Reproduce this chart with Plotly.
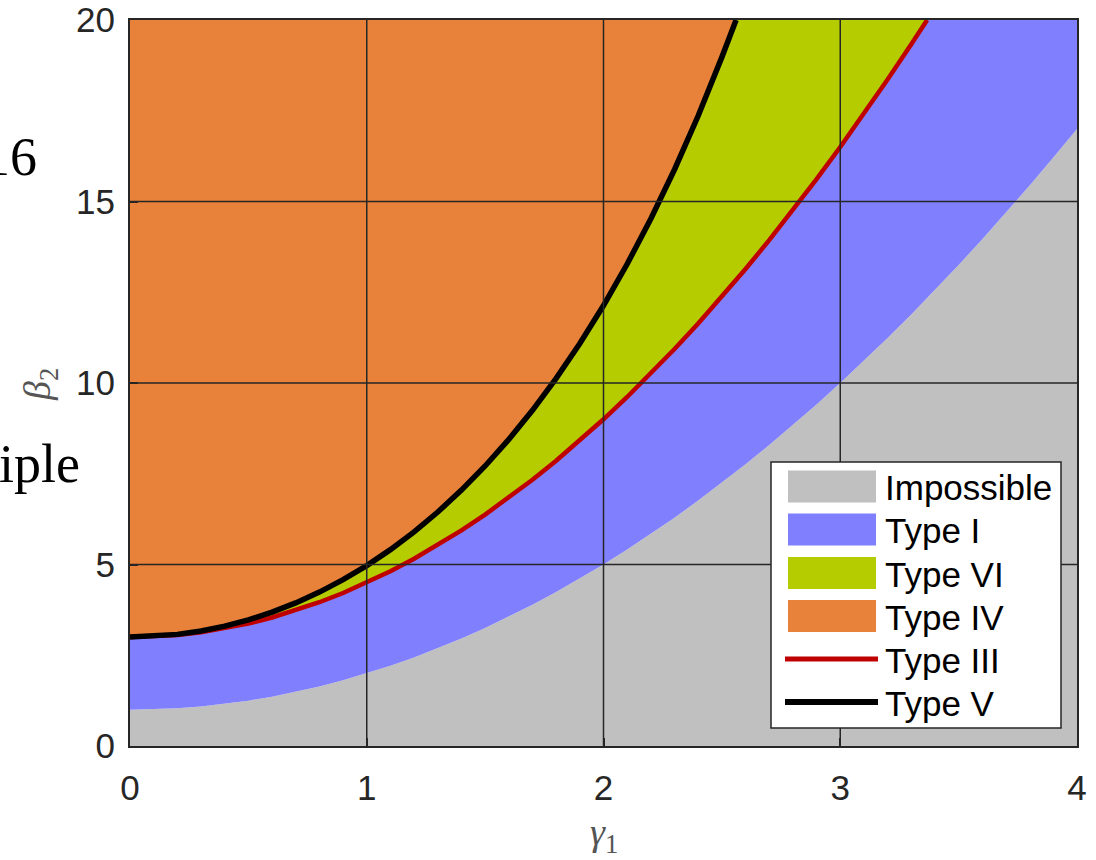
import plotly.graph_objects as go

# ---- data ----
gamma1 = [0.0, 0.1, 0.2, 0.3, 0.4, 0.5, 0.6, 0.7, 0.8, 0.9,
          1.0, 1.1, 1.2, 1.3, 1.4, 1.5, 1.6, 1.7, 1.8, 1.9,
          2.0, 2.1, 2.2, 2.3, 2.4, 2.5, 2.6, 2.7, 2.8, 2.9,
          3.0, 3.1, 3.2, 3.3, 3.4, 3.5, 3.6, 3.7, 3.8, 3.9, 4.0]

impossible_beta2 = [1.00, 1.01, 1.04, 1.09, 1.16, 1.25, 1.36, 1.49, 1.64, 1.81,
                    2.00, 2.21, 2.44, 2.69, 2.96, 3.25, 3.56, 3.89, 4.24, 4.61,
                    5.00, 5.41, 5.84, 6.29, 6.76, 7.25, 7.76, 8.29, 8.84, 9.41,
                    10.00, 10.61, 11.24, 11.89, 12.56, 13.25, 13.96, 14.69, 15.44, 16.21, 17.00]

type3_gamma1 = gamma1[:34] + [3.367]
type3_beta2 = [3.000, 3.015, 3.060, 3.135, 3.240, 3.375, 3.540, 3.735, 3.960, 4.215,
               4.500, 4.815, 5.160, 5.535, 5.940, 6.375, 6.840, 7.335, 7.860, 8.415,
               9.000, 9.615, 10.260, 10.935, 11.640, 12.375, 13.140, 13.935, 14.760, 15.615,
               16.500, 17.415, 18.360, 19.335, 20.000]

type5_gamma1 = gamma1[:26] + [2.56]
type5_beta2 = [3.000, 3.019, 3.075, 3.170, 3.302, 3.475, 3.687, 3.942, 4.239, 4.581,
               4.970, 5.409, 5.900, 6.445, 7.049, 7.714, 8.446, 9.248, 10.127, 11.087,
               12.134, 13.277, 14.524, 15.882, 17.362, 18.977, 20.000]

x_min, x_max = 0, 4
y_min, y_max = 0, 20
x_ticks = [0, 1, 2, 3, 4]
y_ticks = [0, 5, 10, 15, 20]

legend_names = ["Impossible", "Type I", "Type VI", "Type IV", "Type III", "Type V"]

# ---- styles ----
C_GRAY = "#C0C0C0"
C_BLUE = "#8080FF"
C_GREEN = "#B5CC00"
C_ORANGE = "#E8823A"
C_RED = "#BF0000"
C_BLACK = "#000000"
AX = "#262626"
FONT = "Liberation Sans, Arial, sans-serif"
SERIF = "Liberation Serif, serif"

fig = go.Figure()

fig.add_trace(go.Scatter(x=gamma1, y=impossible_beta2, mode="lines",
                         line=dict(width=0, color=C_GRAY), fill="tozeroy",
                         fillcolor=C_GRAY, showlegend=False, hoverinfo="skip"))
fig.add_trace(go.Scatter(x=type3_gamma1 + [x_max], y=type3_beta2 + [y_max], mode="lines",
                         line=dict(width=0, color=C_BLUE), fill="tonexty",
                         fillcolor=C_BLUE, showlegend=False, hoverinfo="skip"))
fig.add_trace(go.Scatter(x=type5_gamma1 + [x_max], y=type5_beta2 + [y_max], mode="lines",
                         line=dict(width=0, color=C_GREEN), fill="tonexty",
                         fillcolor=C_GREEN, showlegend=False, hoverinfo="skip"))
fig.add_trace(go.Scatter(x=[x_min, x_max], y=[y_max, y_max], mode="lines",
                         line=dict(width=0, color=C_ORANGE), fill="tonexty",
                         fillcolor=C_ORANGE, showlegend=False, hoverinfo="skip"))
fig.add_trace(go.Scatter(x=type3_gamma1, y=type3_beta2, mode="lines",
                         line=dict(width=4.5, color=C_RED), showlegend=False, cliponaxis=False))
fig.add_trace(go.Scatter(x=type5_gamma1, y=type5_beta2, mode="lines",
                         line=dict(width=5.5, color=C_BLACK), showlegend=False))

# ---- pixel helpers for layout decoration ----
L, R, T, B = 130, 1077, 20, 746
def px(xp):
    return (xp - L) / (R - L)
def py(yp):
    return (B - yp) / (B - T)

shapes = []
for xv in x_ticks[1:-1]:
    shapes.append(dict(type="line", xref="x", yref="paper", x0=xv, x1=xv, y0=0, y1=1,
                       line=dict(color=AX, width=1.5), layer="above"))
for yv in y_ticks[1:-1]:
    shapes.append(dict(type="line", xref="paper", yref="y", x0=0, x1=1, y0=yv, y1=yv,
                       line=dict(color=AX, width=1.5), layer="above"))

# custom legend
shapes.append(dict(type="rect", xref="paper", yref="paper",
                   x0=px(771), x1=px(1061), y0=py(728), y1=py(462),
                   fillcolor="white", line=dict(color=AX, width=1.5), layer="above"))
row_y = [486.5, 529.5, 573, 616, 659, 702]
patch_colors = [C_GRAY, C_BLUE, C_GREEN, C_ORANGE]
annotations = []
for i, name in enumerate(legend_names):
    yc = row_y[i]
    if i < 4:
        shapes.append(dict(type="rect", xref="paper", yref="paper",
                           x0=px(788), x1=px(876), y0=py(yc + 16), y1=py(yc - 16),
                           fillcolor=patch_colors[i], line=dict(width=0), layer="above"))
    else:
        col = C_RED if i == 4 else C_BLACK
        w = 5 if i == 4 else 6
        shapes.append(dict(type="line", xref="paper", yref="paper",
                           x0=px(785), x1=px(878), y0=py(yc), y1=py(yc),
                           line=dict(color=col, width=w), layer="above"))
    annotations.append(dict(text=name, xref="paper", yref="paper", x=px(883), y=py(yc + 1),
                            xanchor="left", yanchor="middle", showarrow=False,
                            font=dict(family=FONT, size=35, color="#000000")))

# axis titles
annotations.append(dict(text="<i>γ</i><sub>1</sub>",
                        xref="paper", yref="paper", x=0.5, y=py(835),
                        xanchor="center", yanchor="middle", showarrow=False,
                        font=dict(family=SERIF, size=38, color="#555555")))
annotations.append(dict(text="<i>β</i><sub>2</sub>",
                        xref="paper", yref="paper", x=px(40), y=py(385),
                        xanchor="center", yanchor="middle", showarrow=False, textangle=-90,
                        font=dict(family=SERIF, size=38, color="#555555")))

# fragments of surrounding document text
annotations.append(dict(text="16", xref="paper", yref="paper", x=px(-19), y=py(157),
                        xanchor="left", yanchor="middle", showarrow=False,
                        font=dict(family=SERIF, size=54, color="#000000")))
annotations.append(dict(text="iple", xref="paper", yref="paper", x=px(-3), y=py(464),
                        xanchor="left", yanchor="middle", showarrow=False,
                        font=dict(family=SERIF, size=54, color="#000000")))

axis_common = dict(showgrid=False, zeroline=False, showline=True, mirror=True,
                   linecolor=AX, linewidth=2, ticks="inside", ticklen=8, tickwidth=1.5,
                   tickcolor=AX, layer="above traces", automargin=False,
                   tickfont=dict(family=FONT, size=35, color=AX))

fig.update_layout(
    width=1096, height=860,
    margin=dict(l=L, r=1096 - R, t=T, b=860 - B, autoexpand=False),
    paper_bgcolor="white", plot_bgcolor="white",
    xaxis=dict(range=[x_min, x_max], tickvals=x_ticks, ticktext=[str(v) for v in x_ticks],
               ticklabelstandoff=10, **axis_common),
    yaxis=dict(range=[y_min, y_max], tickvals=y_ticks, ticktext=[str(v) for v in y_ticks],
               ticklabelstandoff=6, **axis_common),
    shapes=shapes, annotations=annotations, showlegend=False,
)

fig.write_html("out.html", config={"displayModeBar": False},
               post_script="document.body.style.margin='0';document.body.style.overflow='hidden';")
